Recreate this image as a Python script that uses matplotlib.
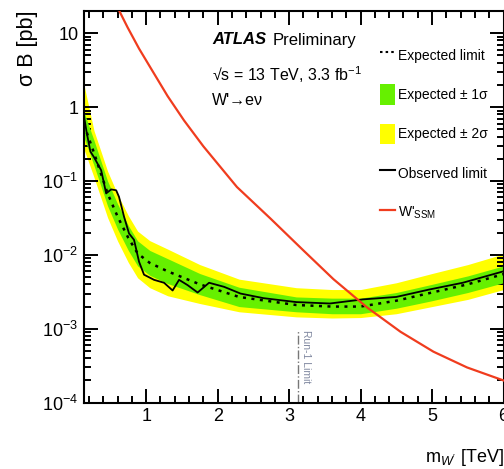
import matplotlib
matplotlib.use('Agg')
import matplotlib.pyplot as plt
from matplotlib.lines import Line2D
from matplotlib.patches import Patch
from matplotlib.ticker import FixedLocator, FixedFormatter, MultipleLocator, LogLocator, NullFormatter

plt.rcParams['font.family'] = ['Liberation Sans Narrow', 'Liberation Sans', 'DejaVu Sans']
plt.rcParams['mathtext.fontset'] = 'custom'
plt.rcParams['mathtext.rm'] = 'Liberation Sans'
plt.rcParams['mathtext.it'] = 'Liberation Sans:italic'
plt.rcParams['mathtext.bf'] = 'Liberation Sans:bold'

# ----------------------------------------------------------------------
# dados (massa em TeV, secao de choque em pb)
m_exp = [0.13, 0.27, 0.46, 0.60, 0.75, 0.88, 1.05, 1.30, 1.75, 2.30, 3.10, 3.60, 4.00, 4.50, 5.00, 5.50, 6.00]
exp_lim = [0.58, 0.24, 0.068, 0.033, 0.017, 0.0105, 0.0078, 0.0060, 0.0040, 0.0027, 0.0021, 0.0020, 0.0020, 0.0024, 0.0031, 0.0040, 0.0055]
exp_up2 = [2.0, 0.48, 0.136, 0.066, 0.034, 0.021, 0.0156, 0.0120, 0.0074, 0.0047, 0.0036, 0.0034, 0.0034, 0.0042, 0.0056, 0.0074, 0.0103]
exp_up1 = [0.86, 0.355, 0.100, 0.049, 0.025, 0.0155, 0.0115, 0.0089, 0.0056, 0.00365, 0.0027, 0.0026, 0.0026, 0.0031, 0.0040, 0.0052, 0.0071]
exp_dn1 = [0.39, 0.162, 0.046, 0.0223, 0.0115, 0.0071, 0.0053, 0.0041, 0.0029, 0.0020, 0.0017, 0.0016, 0.0016, 0.0019, 0.0024, 0.0031, 0.0042]
exp_dn2 = [0.27, 0.112, 0.032, 0.0154, 0.0079, 0.0049, 0.0036, 0.0028, 0.0022, 0.0017, 0.00145, 0.0014, 0.00142, 0.0016, 0.0020, 0.0025, 0.0034]

m_obs = [0.13, 0.17, 0.22, 0.27, 0.37, 0.44, 0.51, 0.58, 0.62, 0.69, 0.76, 0.83, 0.90, 0.97,
         1.11, 1.25, 1.37, 1.46, 1.58, 1.72, 1.88, 2.09, 2.32, 2.64, 3.10, 3.57, 4.03, 4.50,
         4.96, 5.43, 5.89, 6.00]
obs_lim = [0.75, 0.44, 0.25, 0.21, 0.14, 0.068, 0.077, 0.075, 0.061, 0.033, 0.0195, 0.016, 0.0081, 0.0054,
           0.0046, 0.0042, 0.0033, 0.0046, 0.0039, 0.0031, 0.0042, 0.0037, 0.0030, 0.0026, 0.0023, 0.0022,
           0.0025, 0.0027, 0.0034, 0.0042, 0.0056, 0.0060]

m_ssm = [0.62, 0.74, 0.90, 1.07, 1.30, 1.53, 1.80, 2.27, 2.74, 3.20, 3.62, 4.09, 4.56, 5.02, 5.49, 6.00]
xs_ssm = [20.4, 12.0, 6.2, 3.3, 1.41, 0.66, 0.295, 0.083, 0.031, 0.0115, 0.0047, 0.00195, 0.00091,
          0.00049, 0.00030, 0.00020]

run1_limit = 3.12

# ----------------------------------------------------------------------
fig = plt.figure(figsize=(5.04, 4.69), dpi=100)
ax = fig.add_axes([84 / 504, 1 - 402.7 / 469, 419.5 / 504, (402.7 - 11) / 469])

ax.fill_between(m_exp, exp_dn2, exp_up2, color='#ffff00', lw=0, zorder=1)
ax.fill_between(m_exp, exp_dn1, exp_up1, color='#66f000', lw=0, zorder=2)
ax.plot(m_exp, exp_lim, color='black', ls=(0, (1.2, 2.2)), lw=1.8, zorder=3)
ax.plot(m_obs, obs_lim, color='black', lw=1.3, zorder=4)
ax.plot(m_ssm, xs_ssm, color='#f03c1e', lw=1.6, zorder=5, solid_joinstyle='round')

# limite do Run-1
ax.plot([run1_limit, run1_limit], [1e-4, 9.5e-4], color='#777777', ls='-.', lw=1.0, zorder=2)
ax.text(run1_limit + 0.05, 9.7e-4, 'Run-1 Limit', rotation=270, fontsize=7.5,
        color='#8088a0', ha='left', va='top')

ax.set_yscale('log')
ax.set_xlim(0.13, 6.0)
ax.set_ylim(1e-4, 20)

ax.xaxis.set_major_locator(FixedLocator([1, 2, 3, 4, 5, 6]))
ax.xaxis.set_minor_locator(MultipleLocator(0.2))
ax.yaxis.set_major_locator(FixedLocator([1e-4, 1e-3, 1e-2, 1e-1, 1, 10]))
ax.yaxis.set_major_formatter(FixedFormatter(['$10^{-4}$', '$10^{-3}$', '$10^{-2}$', '$10^{-1}$', '1', '10']))
ax.yaxis.set_minor_locator(LogLocator(base=10, subs=range(2, 10), numticks=20))
ax.yaxis.set_minor_formatter(NullFormatter())

ax.tick_params(which='both', direction='in', top=True, right=True, width=1.4)
ax.tick_params(which='major', length=10, labelsize=13, pad=4)
ax.tick_params(which='minor', length=5)
for s in ax.spines.values():
    s.set_linewidth(1.5)

fig.text(27 / 504, 1 - 10 / 469, 'σ B [pb]', rotation=90, ha='center', va='top', fontsize=15.5)
fig.text(504 / 504, 1 - 457 / 469, "m$_{W'}$ [TeV]", ha='right', va='center', fontsize=13)

# textos ATLAS
fig.text(212 / 504, 1 - 40 / 469, 'ATLAS', fontsize=12, fontweight='bold', fontstyle='italic', va='center')
fig.text(273 / 504, 1 - 40 / 469, 'Preliminary', fontsize=12, va='center')
fig.text(212 / 504, 1 - 75 / 469, '√s = 13 TeV, 3.3 fb$^{-1}$', fontsize=11.5, va='center')
fig.text(212 / 504, 1 - 100 / 469, "W'→eν", fontsize=11.5, va='center')

handles = [Line2D([], [], color='black', ls=(0, (1.2, 1.5)), lw=1.5),
           Patch(facecolor='#66f000', edgecolor='none'),
           Patch(facecolor='#ffff00', edgecolor='none'),
           Line2D([], [], color='black', lw=1.5),
           Line2D([], [], color='#f03c1e', lw=1.6)]
labels = ['Expected limit', 'Expected ± 1σ', 'Expected ± 2σ', 'Observed limit', "W'$_{\\rm SSM}$"]
leg = fig.legend(handles, labels, loc='upper left', bbox_to_anchor=(373 / 504, 1 - 38 / 469),
                 frameon=False, fontsize=10, handlelength=1.05, handleheight=1.9,
                 handletextpad=0.25, labelspacing=1.35, borderpad=0)

fig.savefig('out.png', dpi=100)
